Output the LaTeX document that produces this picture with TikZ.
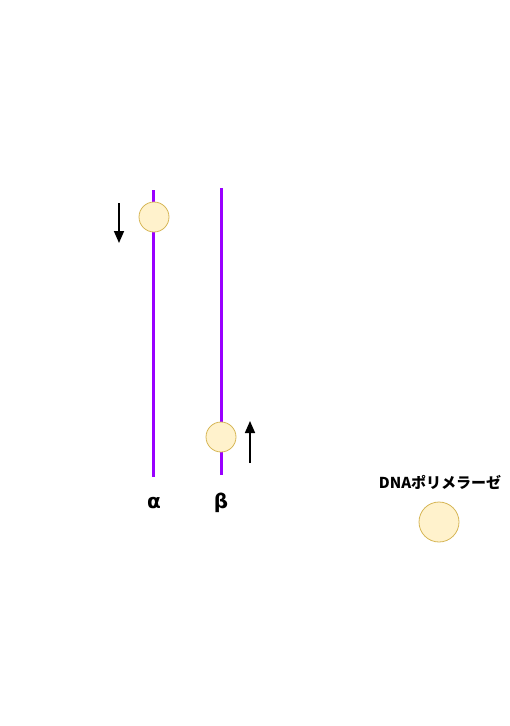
\documentclass[tikz,border=0pt]{standalone}
\usepackage{fontspec}
\setmainfont{DejaVu Sans}
\newfontfamily\cjk{Noto Sans CJK JP}
\usetikzlibrary{arrows.meta}
\definecolor{strand}{HTML}{9900FF}
\definecolor{polyfill}{HTML}{FFF2CC}
\definecolor{polydraw}{HTML}{D6B656}
\tikzset{
  strandline/.style={draw=strand, line width=3pt},
  poly/.style={circle, fill=polyfill, draw=polydraw, line width=0.8pt, inner sep=0pt},
  dirarrow/.style={draw=black, line width=1.6pt, -{Triangle[length=12pt,width=10pt]}},
  lbl/.style={font=\bfseries\fontsize{20}{22}\selectfont, inner sep=0pt}
}
\begin{document}
\begin{tikzpicture}[x=1pt,y=-1pt]
\useasboundingbox (0,0) rectangle (510,726);
\coordinate (a1) at (153,190);
\coordinate (a2) at (153,477);
\coordinate (b1) at (221,188);
\coordinate (b2) at (221,475);
\draw[strandline] (a1) -- (a2);
\draw[strandline] (b1) -- (b2);
\node[poly, minimum size=30pt] (pa) at (154,217) {};
\node[poly, minimum size=30pt] (pb) at (221,437) {};
\node[poly, minimum size=40pt] (pl) at (439,522) {};
\coordinate (da1) at (119,203);
\coordinate (da2) at (119,243);
\coordinate (ub1) at (250,463);
\coordinate (ub2) at (250,421);
\draw[dirarrow] (da1) -- (da2);
\draw[dirarrow] (ub1) -- (ub2);
\node[lbl] (la) at (154,503) {α};
\node[lbl] (lb) at (221,503) {β};
\node[font=\cjk\bfseries\fontsize{15}{17}\selectfont, inner sep=0pt] (lp) at (440,482) {DNAポリメラーゼ};
\end{tikzpicture}
\end{document}
